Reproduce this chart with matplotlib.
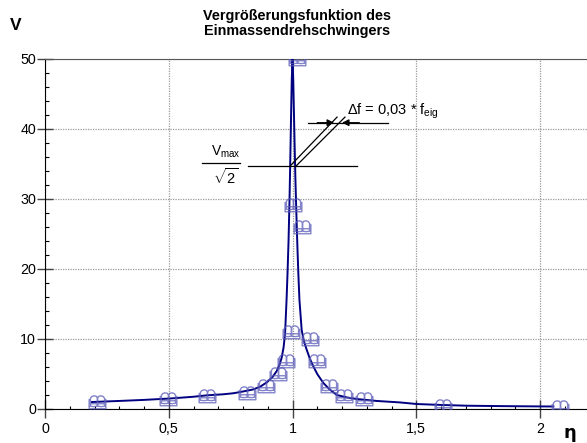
import matplotlib
matplotlib.use("Agg")
import matplotlib.pyplot as plt
from matplotlib.path import Path
from matplotlib.ticker import MultipleLocator, FixedLocator

plt.rcParams['font.family'] = ['Liberation Sans', 'DejaVu Sans']
plt.rcParams['mathtext.fontset'] = 'custom'
plt.rcParams['mathtext.rm'] = 'Liberation Sans'
plt.rcParams['mathtext.it'] = 'Liberation Sans'
plt.rcParams['mathtext.bf'] = 'Liberation Sans:bold'

# ---- data ----
curve_eta = [0.19, 0.30, 0.40, 0.505, 0.60, 0.653, 0.72, 0.761, 0.80, 0.842, 0.87,
             0.896, 0.92, 0.936, 0.948, 0.956, 0.964, 0.970, 0.976, 0.980, 0.984,
             0.988, 0.991, 0.994, 0.997, 1.000, 1.003, 1.006, 1.009, 1.012, 1.016,
             1.020, 1.024, 1.028, 1.037, 1.046, 1.057, 1.070, 1.084, 1.100, 1.125,
             1.150, 1.179, 1.220, 1.259, 1.340, 1.434, 1.502, 1.600, 1.704, 1.850,
             2.000, 2.054]
curve_V = [1.0, 1.15, 1.3, 1.5, 1.75, 1.95, 2.1, 2.25, 2.5, 2.8, 3.2,
           3.8, 4.6, 5.4, 6.4, 7.3, 8.8, 10.8, 15.6, 19.5, 24.0,
           30.0, 35.5, 41.5, 47.0, 50.0, 47.0, 42.0, 37.0, 32.5, 27.5,
           23.0, 19.0, 15.6, 11.3, 9.7, 8.5, 7.2, 6.1, 5.0, 3.7,
           2.8, 2.0, 1.65, 1.43, 1.15, 0.94, 0.71, 0.58, 0.47, 0.41,
           0.37, 0.36]

meas_eta = [0.21, 0.498, 0.653, 0.815, 0.893, 0.943, 0.974, 0.992, 1.001, 1.017,
            1.038, 1.071, 1.098, 1.147, 1.208, 1.289, 1.608, 2.08]
meas_V = [1.0, 1.43, 1.86, 2.33, 3.29, 5.0, 6.9, 10.96, 29.1, 50.0,
          26.0, 10.0, 6.9, 3.29, 1.86, 1.39, 0.45, 0.3]

x_ticks = [0, 0.5, 1, 1.5, 2]
x_ticklabels = ["0", "0,5", "1", "1,5", "2"]
y_ticks = [0, 10, 20, 30, 40, 50]
y_ticklabels = ["0", "10", "20", "30", "40", "50"]

title = "Vergrößerungsfunktion des\nEinmassendrehschwingers"

# ---- open-book marker ----
def book_path():
    verts, codes = [], []
    def add(pts):
        for i, p in enumerate(pts):
            verts.append(p)
            codes.append(Path.MOVETO if i == 0 else Path.LINETO)
    add([(0.0, -0.45), (0.0, 0.55), (-0.15, 0.75), (-0.45, 0.8), (-0.7, 0.7),
         (-0.85, 0.5), (-0.85, -0.45), (-0.45, -0.5), (0.0, -0.45)])
    add([(0.0, -0.45), (0.0, 0.55), (0.15, 0.75), (0.45, 0.8), (0.7, 0.7),
         (0.85, 0.5), (0.85, -0.45), (0.45, -0.5), (0.0, -0.45)])
    add([(-0.85, 0.35), (-1.0, 0.35), (-1.0, -0.75), (1.0, -0.75), (1.0, 0.35), (0.85, 0.35)])
    add([(-0.85, -0.15), (0.85, -0.15)])
    return Path(verts, codes)

book = book_path()

fig = plt.figure(figsize=(5.87, 4.43), dpi=100)
ax = fig.add_axes([45/587, 34/443, 542/587, 350/443])

ax.plot(curve_eta, curve_V, color='#000080', lw=1.4, zorder=3)
ax.plot(meas_eta, meas_V, ls='none', marker=book, markersize=12,
        markerfacecolor='none', markeredgecolor='#5a5ab8', markeredgewidth=1.0,
        alpha=0.75, zorder=4)

ax.set_xlim(0, 542/247.5)
ax.set_ylim(0, 50)

ax.xaxis.set_major_locator(FixedLocator(x_ticks))
ax.set_xticklabels(x_ticklabels)
ax.yaxis.set_major_locator(FixedLocator(y_ticks))
ax.set_yticklabels(y_ticklabels)
ax.xaxis.set_minor_locator(MultipleLocator(0.1))
ax.yaxis.set_minor_locator(MultipleLocator(2))

ax.tick_params(axis='x', which='major', direction='inout', length=13, width=1,
               labelsize=10.3, pad=3, colors='#444444', labelcolor='black')
ax.tick_params(axis='y', which='major', direction='inout', length=11, width=1,
               labelsize=10.3, pad=1, colors='#444444', labelcolor='black')
ax.tick_params(axis='x', which='minor', direction='in', length=2.5, width=0.8)
ax.tick_params(axis='y', which='minor', direction='in', length=3, width=0.8)

ax.grid(True, which='major', color='#9a9a9a', ls=(0, (1, 1)), lw=0.9)
ax.spines['right'].set_visible(False)
ax.spines['top'].set_color('#555555')

# ---- annotations ----
ax.plot([0.821, 1.259], [34.7, 34.7], color='black', lw=0.9, zorder=5)
ax.plot([0.99, 1.18], [34.7, 41.7], color='black', lw=0.9, zorder=5)
ax.plot([1.014, 1.212], [34.7, 41.7], color='black', lw=0.9, zorder=5)
ax.plot([1.063, 1.386], [40.9, 40.9], color='black', lw=0.9, zorder=5)
ax.annotate('', xy=(1.168, 40.9), xytext=(1.10, 40.9),
            arrowprops=dict(arrowstyle='-|>', color='black', lw=0.9,
                            mutation_scale=10, shrinkA=0, shrinkB=0), zorder=6)
ax.annotate('', xy=(1.20, 40.9), xytext=(1.27, 40.9),
            arrowprops=dict(arrowstyle='-|>', color='black', lw=0.9,
                            mutation_scale=10, shrinkA=0, shrinkB=0), zorder=6)
ax.text(1.22, 42.0, r'$\Delta$f = 0,03 * f$_{\mathregular{eig}}$', fontsize=10.5,
        ha='left', va='baseline')

# Vmax / sqrt(2)
fig.text(226/587, 1 - 156/443, r'V$_{\mathregular{max}}$', fontsize=10, ha='center', va='baseline')
fig.add_artist(plt.Line2D([202/587, 240/587], [1 - 162.7/443, 1 - 162.7/443],
                          color='black', lw=0.9))
fig.text(226/587, 1 - 184/443, r'$\sqrt{\mathregular{2}}$', fontsize=10.5, ha='center', va='baseline')

fig.text(297/587, 1 - 9/443, title, fontsize=10.4, fontweight='bold',
         ha='center', va='top', linespacing=1.05)
fig.text(16/587, 1 - 25/443, 'V', fontsize=12.5, fontweight='bold', ha='center', va='center')
fig.text(570/587, 1 - 433/443, 'η', fontsize=13, fontweight='bold', ha='center', va='center',
         family='DejaVu Sans')

fig.savefig('out.png', dpi=100)
